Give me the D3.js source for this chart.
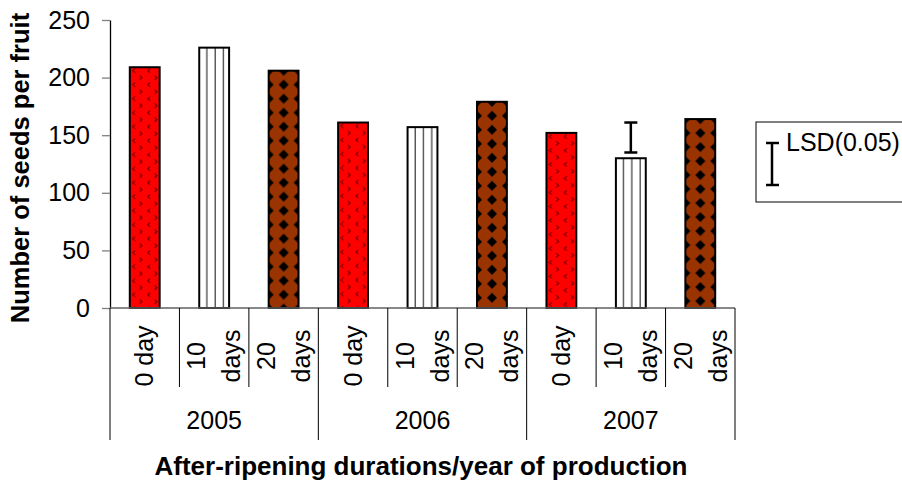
<!DOCTYPE html>
<html lang="en">
<head>
    <script src="https://d3js.org/d3.v7.min.js"></script>
</head>
<style>
    body { margin: 0; background: #fff; }
    text { font-family: "Liberation Sans", Arial, sans-serif; fill: #000; }
</style>
<body>
<script>
    const w = 902
    const h = 485

    // data
    const years = ["2005", "2006", "2007"]
    const durations = ["0 day", "10 days", "20 days"]
    const seeds2005 = [209, 226, 206]
    const seeds2006 = [161, 157, 179]
    const seeds2007 = [152, 130, 164]
    const yTicks = [0, 50, 100, 150, 200, 250]
    // LSD(0.05) bar drawn over the 2007 / 10 days bar
    const lsdLow = 135
    const lsdHigh = 161

    let dat = []
    let seedRows = [seeds2005, seeds2006, seeds2007]
    years.forEach((yr, i) => {
        durations.forEach((dur, j) => {
            dat.push({ key: yr + "|" + dur, year: yr, dur: dur, j: j, seeds: seedRows[i][j] })
        })
    })

    let svg = d3.select("body")
        .append("svg")
        .attr("width", w)
        .attr("height", h)

    // fill patterns, one per duration
    let defs = svg.append("defs")

    let pRed = defs.append("pattern")
        .attr("id", "pRed")
        .attr("patternUnits", "userSpaceOnUse")
        .attr("width", 15).attr("height", 14)
    pRed.append("rect").attr("width", 15).attr("height", 14).attr("fill", "#ff0000")
    pRed.append("path").attr("d", "M5,1.5 L3,3.5 L5,5.5").attr("stroke", "#000").attr("stroke-width", 1).attr("fill", "none")
    pRed.append("path").attr("d", "M10,8.5 L12,10.5 L10,12.5").attr("stroke", "#000").attr("stroke-width", 1).attr("fill", "none")

    let pStripe = defs.append("pattern")
        .attr("id", "pStripe")
        .attr("patternUnits", "userSpaceOnUse")
        .attr("width", 8.3).attr("height", 10)
    pStripe.append("rect").attr("width", 8.3).attr("height", 10).attr("fill", "#fff")
    pStripe.append("rect").attr("x", 7).attr("width", 2).attr("height", 10).attr("fill", "#444")

    let pBrown = defs.append("pattern")
        .attr("id", "pBrown")
        .attr("patternUnits", "userSpaceOnUse")
        .attr("width", 15).attr("height", 14)
    pBrown.append("rect").attr("width", 15).attr("height", 14).attr("fill", "#000")
    pBrown.append("circle").attr("cx", 7.5).attr("cy", 7).attr("r", 8).attr("fill", "#993300")
    // black diamonds sitting on the tile corners
    ;[[0, 0], [15, 0], [0, 14], [15, 14]].forEach(c => {
        pBrown.append("path")
            .attr("d", "M" + c[0] + "," + (c[1] - 5) + " L" + (c[0] + 5) + "," + c[1] + " L" + c[0] + "," + (c[1] + 5) + " L" + (c[0] - 5) + "," + c[1] + "Z")
            .attr("fill", "#000")
    })

    const fills = ["url(#pRed)", "url(#pStripe)", "url(#pBrown)"]

    let xScale = d3.scaleBand()
        .domain(dat.map(d => d.key))
        .range([110, 735])
        .padding(0)

    let yScale = d3.scaleLinear()
        .domain([0, 250])
        .range([308, 20])

    let bw = xScale.bandwidth() * 0.43

    // y axis
    let yaxis = d3.axisLeft(yScale)
        .tickValues(yTicks)
        .tickSize(8)
        .tickSizeOuter(0)
        .tickPadding(12)

    let gy = svg.append("g")
        .attr("transform", "translate(110,0)")
        .call(yaxis)
    gy.select(".domain").attr("stroke", "#000").attr("stroke-width", 1.3)
    gy.selectAll(".tick line").attr("stroke", "#808080").attr("stroke-width", 1.3)
    gy.selectAll(".tick text")
        .attr("font-size", "25px")
        .attr("font-family", "Liberation Sans, Arial, sans-serif")

    // bars, each in its own group so the pattern starts at the bar's left edge
    svg.selectAll("g.bar")
        .data(dat)
        .enter()
        .append("g")
        .attr("class", "bar")
        .attr("transform", d => "translate(" + (xScale(d.key) + (xScale.bandwidth() - bw) / 2) + "," + yScale(d.seeds) + ")")
        .append("rect")
        .attr("x", 0)
        .attr("y", 0)
        .attr("width", bw)
        .attr("height", d => yScale(0) - yScale(d.seeds))
        .attr("fill", d => fills[d.j])
        .attr("stroke", "#000")
        .attr("stroke-width", 2)

    // x axis line and the category boxes below it
    svg.append("line")
        .attr("x1", 110).attr("x2", 735)
        .attr("y1", yScale(0)).attr("y2", yScale(0))
        .attr("stroke", "#606060").attr("stroke-width", 1.3)

    let seps = d3.range(dat.length + 1)
    svg.selectAll("line.sep")
        .data(seps)
        .enter()
        .append("line")
        .attr("class", "sep")
        .attr("x1", i => i < dat.length ? xScale(dat[i].key) : xScale.range()[1])
        .attr("x2", i => i < dat.length ? xScale(dat[i].key) : xScale.range()[1])
        .attr("y1", yScale(0))
        .attr("y2", i => i % 3 == 0 ? 440 : 387)
        .attr("stroke", "#000").attr("stroke-width", 1)

    // rotated duration labels
    let catLab = svg.selectAll("g.cat")
        .data(dat)
        .enter()
        .append("g")
        .attr("class", "cat")
        .attr("transform", d => "translate(" + (xScale(d.key) + xScale.bandwidth() / 2) + ",356) rotate(-90)")

    catLab.each(function(d) {
        let parts = d.dur == "0 day" ? [d.dur] : d.dur.split(" ")
        let off = parts.length == 1 ? [0] : [-17.5, 17.5]
        parts.forEach((p, i) => {
            d3.select(this).append("text")
                .attr("x", 0)
                .attr("y", off[i])
                .attr("dy", "0.35em")
                .attr("text-anchor", "middle")
                .attr("font-size", "25px")
                .text(p)
        })
    })

    // year labels
    svg.selectAll("text.year")
        .data(years)
        .enter()
        .append("text")
        .attr("class", "year")
        .attr("x", (d, i) => (xScale(d + "|0 day") + xScale(d + "|20 days") + xScale.bandwidth()) / 2)
        .attr("y", 429)
        .attr("text-anchor", "middle")
        .attr("font-size", "25px")
        .text(d => d)

    // LSD bar on the 2007 / 10 days column
    let ex = xScale("2007|10 days") + xScale.bandwidth() / 2
    let eb = svg.append("g").attr("stroke", "#000").attr("stroke-width", 2.5)
    eb.append("line").attr("x1", ex).attr("x2", ex).attr("y1", yScale(lsdLow)).attr("y2", yScale(lsdHigh))
    eb.append("line").attr("x1", ex - 6.5).attr("x2", ex + 6.5).attr("y1", yScale(lsdLow)).attr("y2", yScale(lsdLow))
    eb.append("line").attr("x1", ex - 6.5).attr("x2", ex + 6.5).attr("y1", yScale(lsdHigh)).attr("y2", yScale(lsdHigh))

    // axis titles
    svg.append("text")
        .attr("transform", "translate(29,168) rotate(-90)")
        .attr("text-anchor", "middle")
        .attr("font-size", "25.5px")
        .attr("font-weight", "bold")
        .text("Number of seeds per fruit")

    svg.append("text")
        .attr("x", 421)
        .attr("y", 475)
        .attr("text-anchor", "middle")
        .attr("font-size", "26px")
        .attr("font-weight", "bold")
        .text("After-ripening durations/year of production")

    // legend
    svg.append("rect")
        .attr("x", 756).attr("y", 122)
        .attr("width", 160).attr("height", 80)
        .attr("fill", "#fff").attr("stroke", "#000").attr("stroke-width", 1)

    let lg = svg.append("g").attr("stroke", "#000").attr("stroke-width", 2.5)
    lg.append("line").attr("x1", 772).attr("x2", 772).attr("y1", 143).attr("y2", 185)
    lg.append("line").attr("x1", 766).attr("x2", 779).attr("y1", 143).attr("y2", 143)
    lg.append("line").attr("x1", 766).attr("x2", 779).attr("y1", 185).attr("y2", 185)

    svg.append("text")
        .attr("x", 786)
        .attr("y", 151)
        .attr("font-size", "25px")
        .text("LSD(0.05)")
</script>
</body>
</html>
